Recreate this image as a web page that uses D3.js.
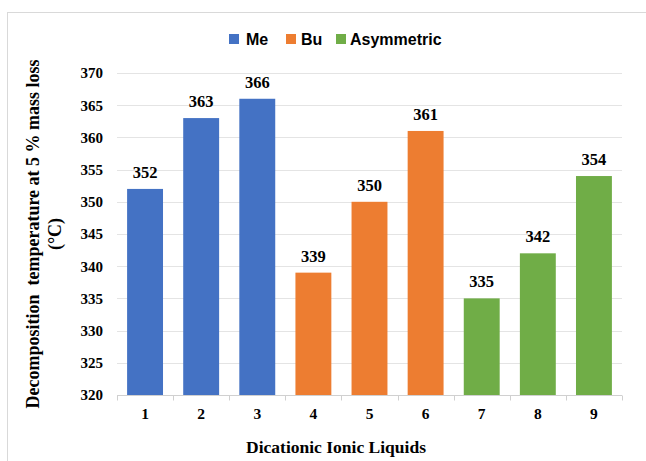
<!DOCTYPE html>
<html>
<head>
<meta charset="utf-8">
<script src="https://cdn.jsdelivr.net/npm/d3@7"></script>
<style>
  html, body { margin: 0; padding: 0; background: #fff; }
  svg { display: block; }
</style>
</head>
<body>
<svg id="chart" width="646" height="461"></svg>
<script>
// Decomposition temperatures of dicationic ionic liquids
const categories = ["1", "2", "3", "4", "5", "6", "7", "8", "9"];
const values = [352, 363, 366, 339, 350, 361, 335, 342, 354];
const groups = ["Me", "Me", "Me", "Bu", "Bu", "Bu", "Asymmetric", "Asymmetric", "Asymmetric"];
const seriesNames = ["Me", "Bu", "Asymmetric"];
const seriesColors = ["#4472C4", "#ED7D31", "#70AD47"];
const yTicks = [320, 325, 330, 335, 340, 345, 350, 355, 360, 365, 370];

const svg = d3.select("#chart");
const serif = "'Liberation Serif', 'Times New Roman', serif";
const sans = "'Liberation Sans', Arial, sans-serif";

// chart frame
svg.append("rect")
  .attr("x", 7.5).attr("y", 12.5)
  .attr("width", 660).attr("height", 470)
  .attr("fill", "none").attr("stroke", "#d9d9d9").attr("stroke-width", 1);

const plot = { left: 117, right: 622, top: 73, bottom: 395 };

const x = d3.scaleBand().domain(categories).range([plot.left, plot.right]).paddingInner(0.36).paddingOuter(0.18);
const xEdge = d3.scaleBand().domain(categories).range([plot.left, plot.right]);
const y = d3.scaleLinear().domain([320, 370]).range([plot.bottom, plot.top]);
const color = d3.scaleOrdinal().domain(seriesNames).range(seriesColors);

// horizontal gridlines
svg.append("g")
  .selectAll("line")
  .data(yTicks.slice(1))
  .join("line")
  .attr("x1", plot.left).attr("x2", plot.right)
  .attr("y1", d => Math.round(y(d)) + 0.5).attr("y2", d => Math.round(y(d)) + 0.5)
  .attr("stroke", "#e4e4e4").attr("stroke-width", 1);

// y axis labels
const yAxis = svg.append("g")
  .attr("transform", `translate(${plot.left},0)`)
  .call(d3.axisLeft(y).tickValues(yTicks).tickSize(0).tickPadding(14));
yAxis.select(".domain").remove();
yAxis.selectAll("text")
  .attr("font-family", serif).attr("font-weight", "bold")
  .attr("font-size", 15).attr("fill", "#000");

// bars
svg.append("g")
  .selectAll("rect")
  .data(values)
  .join("rect")
  .attr("x", (d, i) => x(categories[i]))
  .attr("width", x.bandwidth())
  .attr("y", d => y(d))
  .attr("height", d => y(320) - y(d))
  .attr("fill", (d, i) => color(groups[i]));

// value labels
svg.append("g")
  .selectAll("text")
  .data(values)
  .join("text")
  .attr("x", (d, i) => x(categories[i]) + x.bandwidth() / 2)
  .attr("y", d => y(d) - 11)
  .attr("text-anchor", "middle")
  .attr("font-family", serif).attr("font-weight", "bold")
  .attr("font-size", 16.5).attr("fill", "#000")
  .text(d => d);

// x axis with tick marks at category boundaries
const xAxisG = svg.append("g").attr("transform", `translate(0,${plot.bottom + 0.5})`);
xAxisG.append("line")
  .attr("x1", plot.left).attr("x2", plot.right)
  .attr("stroke", "#d0d0d0").attr("stroke-width", 1);
xAxisG.selectAll("line.tick")
  .data(categories.concat(["end"]))
  .join("line")
  .attr("class", "tick")
  .attr("x1", (d, i) => Math.round(i < categories.length ? xEdge(d) : plot.right) + 0.5)
  .attr("x2", (d, i) => Math.round(i < categories.length ? xEdge(d) : plot.right) + 0.5)
  .attr("y1", 0).attr("y2", 5)
  .attr("stroke", "#d0d0d0").attr("stroke-width", 1);
xAxisG.selectAll("text")
  .data(categories)
  .join("text")
  .attr("x", d => xEdge(d) + xEdge.bandwidth() / 2)
  .attr("y", 23)
  .attr("text-anchor", "middle")
  .attr("font-family", serif).attr("font-weight", "bold")
  .attr("font-size", 15.5).attr("fill", "#000")
  .text(d => d);

// axis titles
svg.append("text")
  .attr("x", 336)
  .attr("y", 453)
  .attr("text-anchor", "middle")
  .attr("font-family", serif).attr("font-weight", "bold")
  .attr("font-size", 17.5).attr("fill", "#000")
  .text("Dicationic Ionic Liquids");

const yTitle = svg.append("text")
  .attr("transform", "translate(0,234) rotate(-90)")
  .attr("text-anchor", "middle")
  .attr("font-family", serif).attr("font-weight", "bold")
  .attr("font-size", 18).attr("fill", "#000");
yTitle.append("tspan").attr("x", 0).attr("y", 39).attr("xml:space", "preserve")
  .text("Decomposition  temperature at 5 % mass loss");
yTitle.append("tspan").attr("x", 0).attr("y", 61).text("(°C)");

// legend
const legendItems = [
  { name: "Me", x: 229, tx: 246 },
  { name: "Bu", x: 286, tx: 301 },
  { name: "Asymmetric", x: 336, tx: 350 }
];
const legend = svg.append("g");
const li = legend.selectAll("g").data(legendItems).join("g")
  .attr("transform", d => `translate(${d.x},34)`);
li.append("rect").attr("width", 10).attr("height", 10).attr("fill", d => color(d.name));
li.append("text")
  .attr("x", d => d.tx - d.x).attr("y", 10.5)
  .attr("font-family", sans).attr("font-weight", "bold")
  .attr("font-size", 16).attr("fill", "#000")
  .text(d => d.name);
</script>
</body>
</html>
